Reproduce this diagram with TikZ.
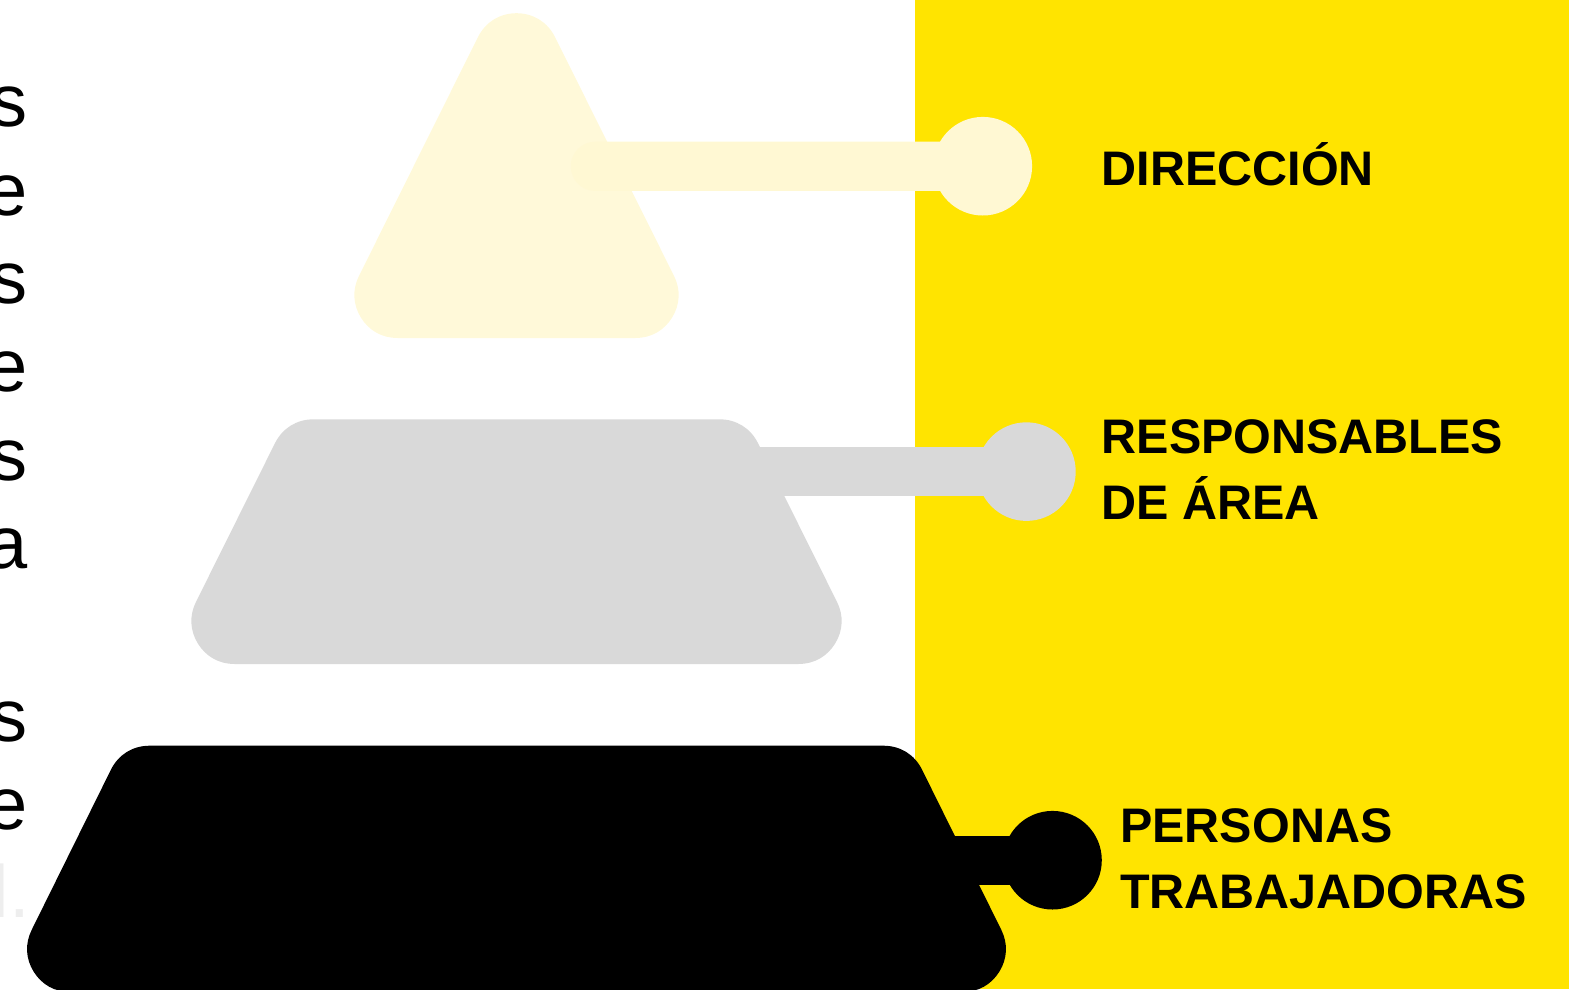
\documentclass[tikz,border=0pt]{standalone}
\usepackage{fontspec}
\setmainfont{Liberation Sans}
\definecolor{bgyellow}{HTML}{FFE400}
\definecolor{tricol}{HTML}{FFF9D9}
\definecolor{barcol}{HTML}{FFF8D3}
\definecolor{midgray}{HTML}{D9D9D9}
\definecolor{fadecol}{HTML}{EEEEEE}
\begin{document}
\begin{tikzpicture}[x=1pt,y=-1pt,
  tier/.style={line width=86pt, line join=round},
  knob/.style={circle, minimum size=98.6pt, inner sep=0pt, outer sep=0pt},
  barline/.style={line width=49.3pt},
  lbl/.style={anchor=base west, inner sep=0pt, font=\fontsize{48.5}{58}\selectfont\bfseries},
  sidelet/.style={anchor=base east, inner sep=0pt, font=\fontsize{74}{88}\selectfont}]
\useasboundingbox (0,0) rectangle (1569,989);
\clip (0,0) rectangle (1569,989);
% background
\fill[bgyellow] (915,0) rectangle (1569,989);
% left cut-off letters
\node[sidelet] (l1) at (27.5,126.7) {s};
\node[sidelet] (l2) at (27.5,215) {e};
\node[sidelet] (l3) at (27.5,303.3) {s};
\node[sidelet] (l4) at (27.5,391.7) {e};
\node[sidelet] (l5) at (27.5,480) {s};
\node[sidelet] (l6) at (27.5,568.3) {a};
\node[sidelet] (l7) at (27.5,741) {s};
\node[sidelet] (l8) at (27.5,829) {e};
\node[sidelet, text=fadecol] (l9) at (30,917) {l.};
% top tier
\filldraw[tier, color=tricol] (516.5,56.2) -- (397.5,295) -- (635.5,295) -- cycle;
\node[knob, fill=barcol] (c1) at (982.8,166.2) {};
\coordinate (b1) at (595.4,166.3);
\draw[barline, barcol, line cap=round] (b1) -- (c1.center);
% middle tier
\node[knob, fill=midgray] (c2) at (1026.4,471.6) {};
\coordinate (b2) at (700,471.6);
\draw[barline, midgray] (b2) -- (c2.center);
\filldraw[tier, color=midgray] (313.5,462.3) -- (719.5,462.3) -- (798.5,621) -- (234.5,621) -- cycle;
% bottom tier
\node[knob, fill=black] (c3) at (1052.5,860.2) {};
\coordinate (b3) at (880,860.2);
\draw[barline, black] (b3) -- (c3.center);
\filldraw[tier, color=black] (149.5,788.7) -- (883.5,788.7) -- (962.8,949) -- (70.2,949) -- cycle;
% labels
\node[lbl] (t1) at (1101.5,185) {DIRECCIÓN};
\node[lbl] (t2a) at (1101.5,453.5) {RESPONSABLES};
\node[lbl] (t2b) at (1101.5,519) {DE ÁREA};
\node[lbl] (t3a) at (1120,842.3) {PERSONAS};
\node[lbl] (t3b) at (1120,908.3) {TRABAJADORAS};
\end{tikzpicture}
\end{document}
